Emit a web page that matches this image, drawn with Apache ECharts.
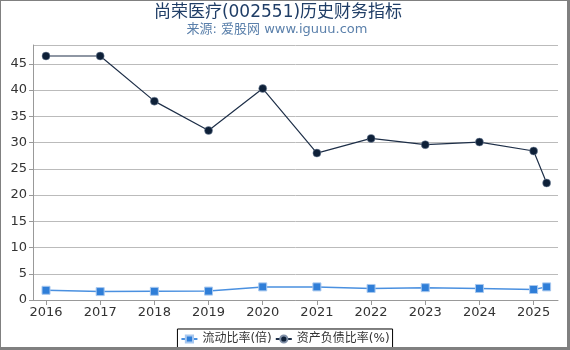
<!DOCTYPE html>
<html><head><meta charset="utf-8">
<script src="https://cdn.jsdelivr.net/npm/echarts@6/dist/echarts.min.js"></script>
<style>
html,body{margin:0;padding:0;background:#fff;}
#frame{position:absolute;left:0;top:0;width:566px;height:346px;border-left:1px solid #808080;border-top:1px solid #808080;border-right:3px solid #808080;border-bottom:3px solid #808080;}
#c{position:absolute;left:0;top:0;width:570px;height:350px;}
</style></head>
<body>
<div id="c"></div>
<div id="frame"></div>
<script>
const titleText = '尚荣医疗(002551)历史财务指标';
const subText = '来源: 爱股网 www.iguuu.com';
const xPositions = [2016, 2017, 2018, 2019, 2020, 2021, 2022, 2023, 2024, 2025, 2025.24];
const yearTicks = [2016, 2017, 2018, 2019, 2020, 2021, 2022, 2023, 2024, 2025];
const currentRatio = [1.85, 1.6, 1.65, 1.7, 2.5, 2.5, 2.2, 2.35, 2.2, 2.0, 2.5];
const debtRatio = [46.5, 46.5, 37.9, 32.3, 40.3, 28.0, 30.8, 29.6, 30.1, 28.4, 22.3];
const seriesNames = ['流动比率(倍)', '资产负债比率(%)'];

const font = '"DejaVu Sans", "Noto Sans CJK SC", sans-serif';
const chart = echarts.init(document.getElementById('c'));
const zip = (xs, ys) => xs.map((x, i) => [x, ys[i]]);
chart.setOption({
  animation: false,
  textStyle: {fontFamily: font},
  title: [{
    text: titleText, left: 278, top: 4, textAlign: 'center', padding: 0,
    textStyle: {fontSize: 17, fontWeight: 'normal', color: '#1f3d66', fontFamily: font}
  }, {
    text: subText, left: 277, top: 23, textAlign: 'center', padding: 0,
    textStyle: {fontSize: 13, fontWeight: 'normal', color: '#5b80ab', fontFamily: font}
  }],
  legend: {
    bottom: 2, left: 'center', borderColor: '#000', borderWidth: 1, padding: [4, 3, 3, 3],
    itemWidth: 16, itemHeight: 9, itemGap: 3,
    textStyle: {fontSize: 12, color: '#333', fontFamily: font},
    data: seriesNames
  },
  grid: {left: 33, right: 12, top: 45, bottom: 50},
  xAxis: {
    type: 'value', min: 2015.76, max: 2025.45,
    axisLine: {lineStyle: {color: '#999'}},
    axisTick: {show: true, customValues: yearTicks, lineStyle: {color: '#999'}},
    axisLabel: {customValues: yearTicks, fontSize: 13, color: '#333', margin: 6, formatter: v => String(Math.round(v))},
    splitLine: {show: false}
  },
  yAxis: {
    type: 'value', min: 0, max: 48.6, interval: 5,
    axisLine: {show: true, lineStyle: {color: '#999'}},
    axisTick: {show: true, length: 4, lineStyle: {color: '#999'}},
    axisLabel: {fontSize: 13, color: '#333', margin: 6, showMaxLabel: false},
    splitLine: {lineStyle: {color: '#bbb'}}
  },
  series: [
    {name: seriesNames[0], type: 'line', data: zip(xPositions, currentRatio),
     symbol: 'rect', symbolSize: 8,
     itemStyle: {color: '#2f7ed8', borderColor: '#a8c8ef', borderWidth: 1},
     lineStyle: {color: '#4a90e0', width: 1.5}},
    {name: seriesNames[1], type: 'line', data: zip(xPositions, debtRatio),
     symbol: 'circle', symbolSize: 8,
     itemStyle: {color: '#0e2038', borderColor: '#8090a8', borderWidth: 0.5},
     lineStyle: {color: '#1e2f48', width: 1.2}}
  ]
});
</script>
</body></html>
